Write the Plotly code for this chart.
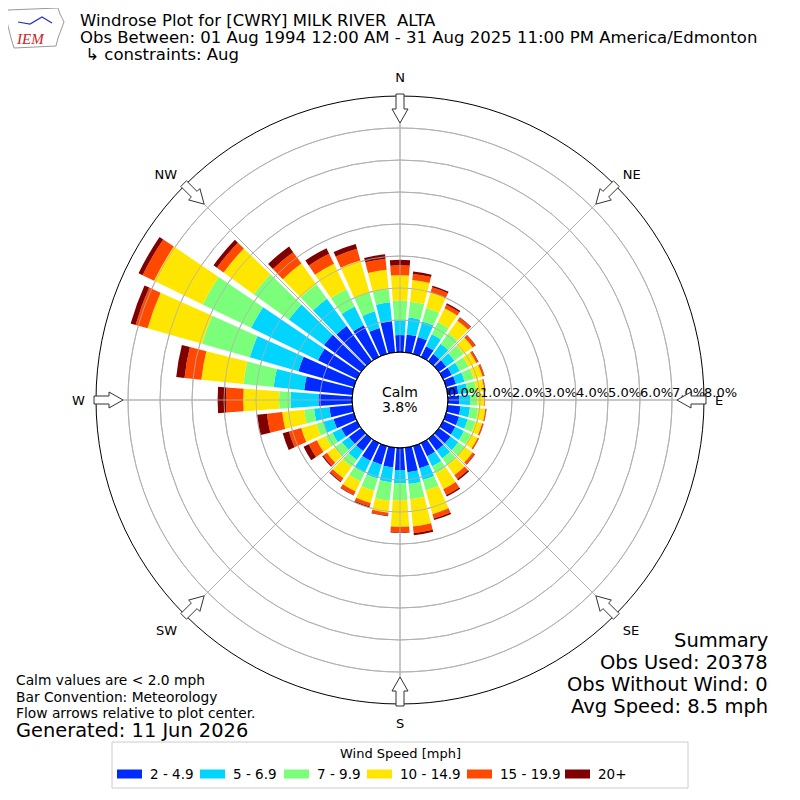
import numpy as np
import plotly.graph_objects as go

# wind direction bins (degrees, meteorological), 10 degree sectors
directions = list(range(0, 360, 10))

speed_labels = ["2 - 4.9", "5 - 6.9", "7 - 9.9", "10 - 14.9", "15 - 19.9", "20+"]
speed_colors = ["#002bff", "#00d4ff", "#7bff7b", "#ffe600", "#ff4900", "#800000"]

# frequency [%] per direction, one list per speed bin
spd_2_5 = [0.53, 0.56, 0.55, 0.37, 0.27, 0.28, 0.30, 0.32, 0.33, 0.35, 0.40, 0.42,
           0.42, 0.45, 0.45, 0.45, 0.72, 0.77, 0.69, 0.62, 0.60, 0.61, 0.47, 0.47,
           0.54, 0.66, 0.72, 1.05, 1.51, 1.80, 1.35, 1.43, 1.35, 1.10, 0.84, 0.97]
spd_5_7 = [0.46, 0.53, 0.50, 0.41, 0.40, 0.32, 0.28, 0.28, 0.29, 0.34, 0.30, 0.28,
           0.30, 0.30, 0.30, 0.35, 0.38, 0.37, 0.41, 0.47, 0.45, 0.42, 0.34, 0.27,
           0.31, 0.33, 0.48, 0.87, 0.96, 1.58, 2.32, 1.36, 1.05, 0.65, 0.54, 0.60]
spd_7_10 = [0.62, 0.50, 0.44, 0.43, 0.41, 0.35, 0.30, 0.30, 0.28, 0.23, 0.25, 0.25,
            0.25, 0.25, 0.27, 0.25, 0.34, 0.48, 0.53, 0.58, 0.40, 0.30, 0.27, 0.28,
            0.24, 0.22, 0.31, 0.36, 0.95, 1.55, 1.68, 1.35, 0.56, 0.60, 0.61, 0.42]
spd_10_15 = [0.79, 0.68, 0.50, 0.48, 0.48, 0.35, 0.27, 0.28, 0.25, 0.22, 0.23, 0.22,
             0.23, 0.30, 0.38, 0.55, 0.77, 0.85, 0.83, 0.37, 0.40, 0.35, 0.44, 0.30,
             0.30, 0.50, 0.69, 1.12, 1.32, 1.77, 1.69, 1.16, 0.80, 0.88, 1.04, 0.60]
spd_15_20 = [0.31, 0.19, 0.17, 0.12, 0.11, 0.10, 0.06, 0.06, 0.03, 0.02, 0.03, 0.04,
             0.04, 0.08, 0.15, 0.20, 0.14, 0.21, 0.17, 0.09, 0.11, 0.12, 0.12, 0.14,
             0.28, 0.40, 0.48, 0.54, 0.53, 0.39, 0.40, 0.26, 0.44, 0.35, 0.38, 0.35]
spd_20p = [0.17, 0.08, 0.05, 0.05, 0.02, 0.02, 0.02, 0.01, 0.01, 0.00, 0.01, 0.01,
           0.01, 0.02, 0.05, 0.05, 0.05, 0.07, 0.02, 0.02, 0.03, 0.02, 0.03, 0.04,
           0.18, 0.20, 0.31, 0.26, 0.26, 0.16, 0.14, 0.13, 0.22, 0.19, 0.16, 0.14]
speed_data = [spd_2_5, spd_5_7, spd_7_10, spd_10_15, spd_15_20, spd_20p]

radial_ticks = list(range(0, 9))
compass_deg = [0, 45, 90, 135, 180, 225, 270, 315]
compass_lbl = ["N", "NE", "E", "SE", "S", "SW", "W", "NW"]

calm_pct = 3.8
obs_used = 20378
obs_nowind = 0
avg_speed = 8.5

# page geometry (pixels, as seen in the browser)
W = H = 800
OFF = 8          # page body margin of the html file
CX, CY = 400, 400
R_OUT = 304
R_HOLE = 48
R_STEP = (R_OUT - R_HOLE) / 8
FONT = "DejaVu Sans"


def paper(x, y):
    return (x - OFF) / W, 1 - (y - OFF) / H


fig = go.Figure()
for name, vals, col in zip(speed_labels, speed_data, speed_colors):
    fig.add_trace(go.Barpolar(r=vals, theta=directions, width=8.3, name=name,
                              marker=dict(color=col, line=dict(width=0)),
                              showlegend=False))

pcx, pcy = paper(CX, CY)
nb = "\u00a0" * 8
fig.update_layout(
    width=W, height=H, margin=dict(l=0, r=0, t=0, b=0),
    paper_bgcolor="white", font=dict(family=FONT, color="black"),
    polar=dict(
        domain=dict(x=[pcx - R_OUT / W, pcx + R_OUT / W],
                    y=[pcy - R_OUT / H, pcy + R_OUT / H]),
        hole=R_HOLE / R_OUT, bgcolor="white", barmode="stack",
        radialaxis=dict(range=[0, 8], tickvals=radial_ticks,
                        ticktext=[nb + f"{v:.1f}%" for v in radial_ticks],
                        angle=0, tickangle=0, side="counterclockwise",
                        showline=False, ticks="", gridcolor="#b0b0b0",
                        gridwidth=0.8, tickfont=dict(size=13),
                        layer="above traces"),
        angularaxis=dict(direction="clockwise", rotation=90,
                         tickvals=compass_deg, ticktext=compass_lbl,
                         showline=True, linecolor="black", linewidth=1,
                         gridcolor="#b0b0b0", gridwidth=0.8,
                         ticks="outside", ticklen=8,
                         tickcolor="rgba(0,0,0,0)", tickfont=dict(size=13),
                         layer="above traces"),
    ),
)

shapes = []
# grid drawn over the bars, like the reference
for k in range(1, 8):
    rr = R_HOLE + k * R_STEP
    x0, y0 = paper(CX - rr, CY + rr)
    x1, y1 = paper(CX + rr, CY - rr)
    shapes.append(dict(type="circle", xref="paper", yref="paper",
                       x0=x0, x1=x1, y0=y0, y1=y1,
                       line=dict(color="#b0b0b0", width=0.8), layer="above"))
for a in compass_deg:
    t = np.radians(a)
    xa, ya = paper(CX + R_HOLE * np.sin(t), CY - R_HOLE * np.cos(t))
    xb, yb = paper(CX + R_OUT * np.sin(t), CY - R_OUT * np.cos(t))
    shapes.append(dict(type="line", xref="paper", yref="paper",
                       x0=xa, y0=ya, x1=xb, y1=yb,
                       line=dict(color="#b0b0b0", width=0.8), layer="above"))

# calm circle edge
x0, y0 = paper(CX - R_HOLE, CY + R_HOLE)
x1, y1 = paper(CX + R_HOLE, CY - R_HOLE)
shapes.append(dict(type="circle", xref="paper", yref="paper",
                   x0=x0, x1=x1, y0=y0, y1=y1,
                   line=dict(color="black", width=1), layer="above"))

# flow arrows at the compass points, pointing to the center
arrow_local = [(0, -4), (15, -4), (15, -8), (29, 0), (15, 8), (15, 4), (0, 4)]
for a in compass_deg:
    t = np.radians(a)
    ux, uy = np.sin(t), -np.cos(t)
    pts = []
    for u, v in arrow_local:
        rr = 306 - u
        x = CX + rr * ux + v * (-uy)
        y = CY + rr * uy + v * ux
        pts.append(paper(x, y))
    path = "M " + " L ".join(f"{p[0]:.5f},{p[1]:.5f}" for p in pts) + " Z"
    shapes.append(dict(type="path", xref="paper", yref="paper", path=path,
                       fillcolor="white", line=dict(color="#333333", width=1),
                       layer="above"))

# legend box
bx0, by0 = paper(112, 788)
bx1, by1 = paper(688, 742)
shapes.append(dict(type="rect", xref="paper", yref="paper",
                   x0=bx0, x1=bx1, y0=by0, y1=by1,
                   line=dict(color="#cccccc", width=1), fillcolor="white"))
legend_x = [117, 200, 284, 367, 467, 565]
for lx, col in zip(legend_x, speed_colors):
    rx0, ry0 = paper(lx, 778.5)
    rx1, ry1 = paper(lx + 25, 769.5)
    shapes.append(dict(type="rect", xref="paper", yref="paper",
                       x0=rx0, x1=rx1, y0=ry0, y1=ry1,
                       fillcolor=col, line=dict(width=0)))

# IEM logo (rough state outline)
logo = [(8, 10), (58, 8), (60, 14), (64, 22), (61, 30), (58, 38), (56, 46),
        (14, 48), (11, 38), (8, 26), (6, 16)]
shapes.append(dict(type="path", xref="paper", yref="paper",
                   path="M " + " L ".join("%.5f,%.5f" % paper(x, y) for x, y in logo) + " Z",
                   line=dict(color="#999999", width=1), fillcolor="white"))
shapes.append(dict(type="path", xref="paper", yref="paper",
                   path="M %.5f,%.5f L %.5f,%.5f L %.5f,%.5f L %.5f,%.5f" % (
                       *paper(18, 22), *paper(30, 24), *paper(42, 17), *paper(52, 23)),
                   line=dict(color="#2233cc", width=1.2)))
fig.update_layout(shapes=shapes)

ann = []
PAD = {"left": -2, "right": 3, "center": 0}


def text(x, y, s, size, xanchor="left", color="black", family=FONT):
    px_, py_ = paper(x + PAD[xanchor], y)
    ann.append(dict(x=px_, y=py_, xref="paper", yref="paper", text=s,
                    showarrow=False, xanchor=xanchor, yanchor="middle",
                    font=dict(size=size, color=color, family=family)))


text(80, 20, "Windrose Plot for [CWRY] MILK RIVER  ALTA", 16.5)
text(80, 37, "Obs Between: 01 Aug 1994 12:00 AM - 31 Aug 2025 11:00 PM America/Edmonton", 16.5)
text(80, 55, " \u21b3 constraints: Aug", 16.5)
text(30, 39, "<i>IEM</i>", 15, "center", "#cc2222", "Liberation Serif")

text(400, 392, "Calm", 14, "center")
text(400, 407, f"{calm_pct:.1f}%", 14, "center")

text(767, 640, "Summary", 19.5, "right")
text(767, 662, f"Obs Used: {obs_used}", 19.5, "right")
text(767, 684, f"Obs Without Wind: {obs_nowind}", 19.5, "right")
text(767, 706, f"Avg Speed: {avg_speed} mph", 19.5, "right")

text(16, 680, "Calm values are < 2.0 mph", 13.8)
text(16, 697, "Bar Convention: Meteorology", 13.8)
text(16, 713, "Flow arrows relative to plot center.", 13.8)
text(16, 730, "Generated: 11 Jun 2026", 19.4)

text(400, 753, "Wind Speed [mph]", 13, "center")
for lx, lab in zip(legend_x, speed_labels):
    text(lx + 33, 774, lab, 13.5)

fig.update_layout(annotations=ann)
fig.write_html("out.html")
